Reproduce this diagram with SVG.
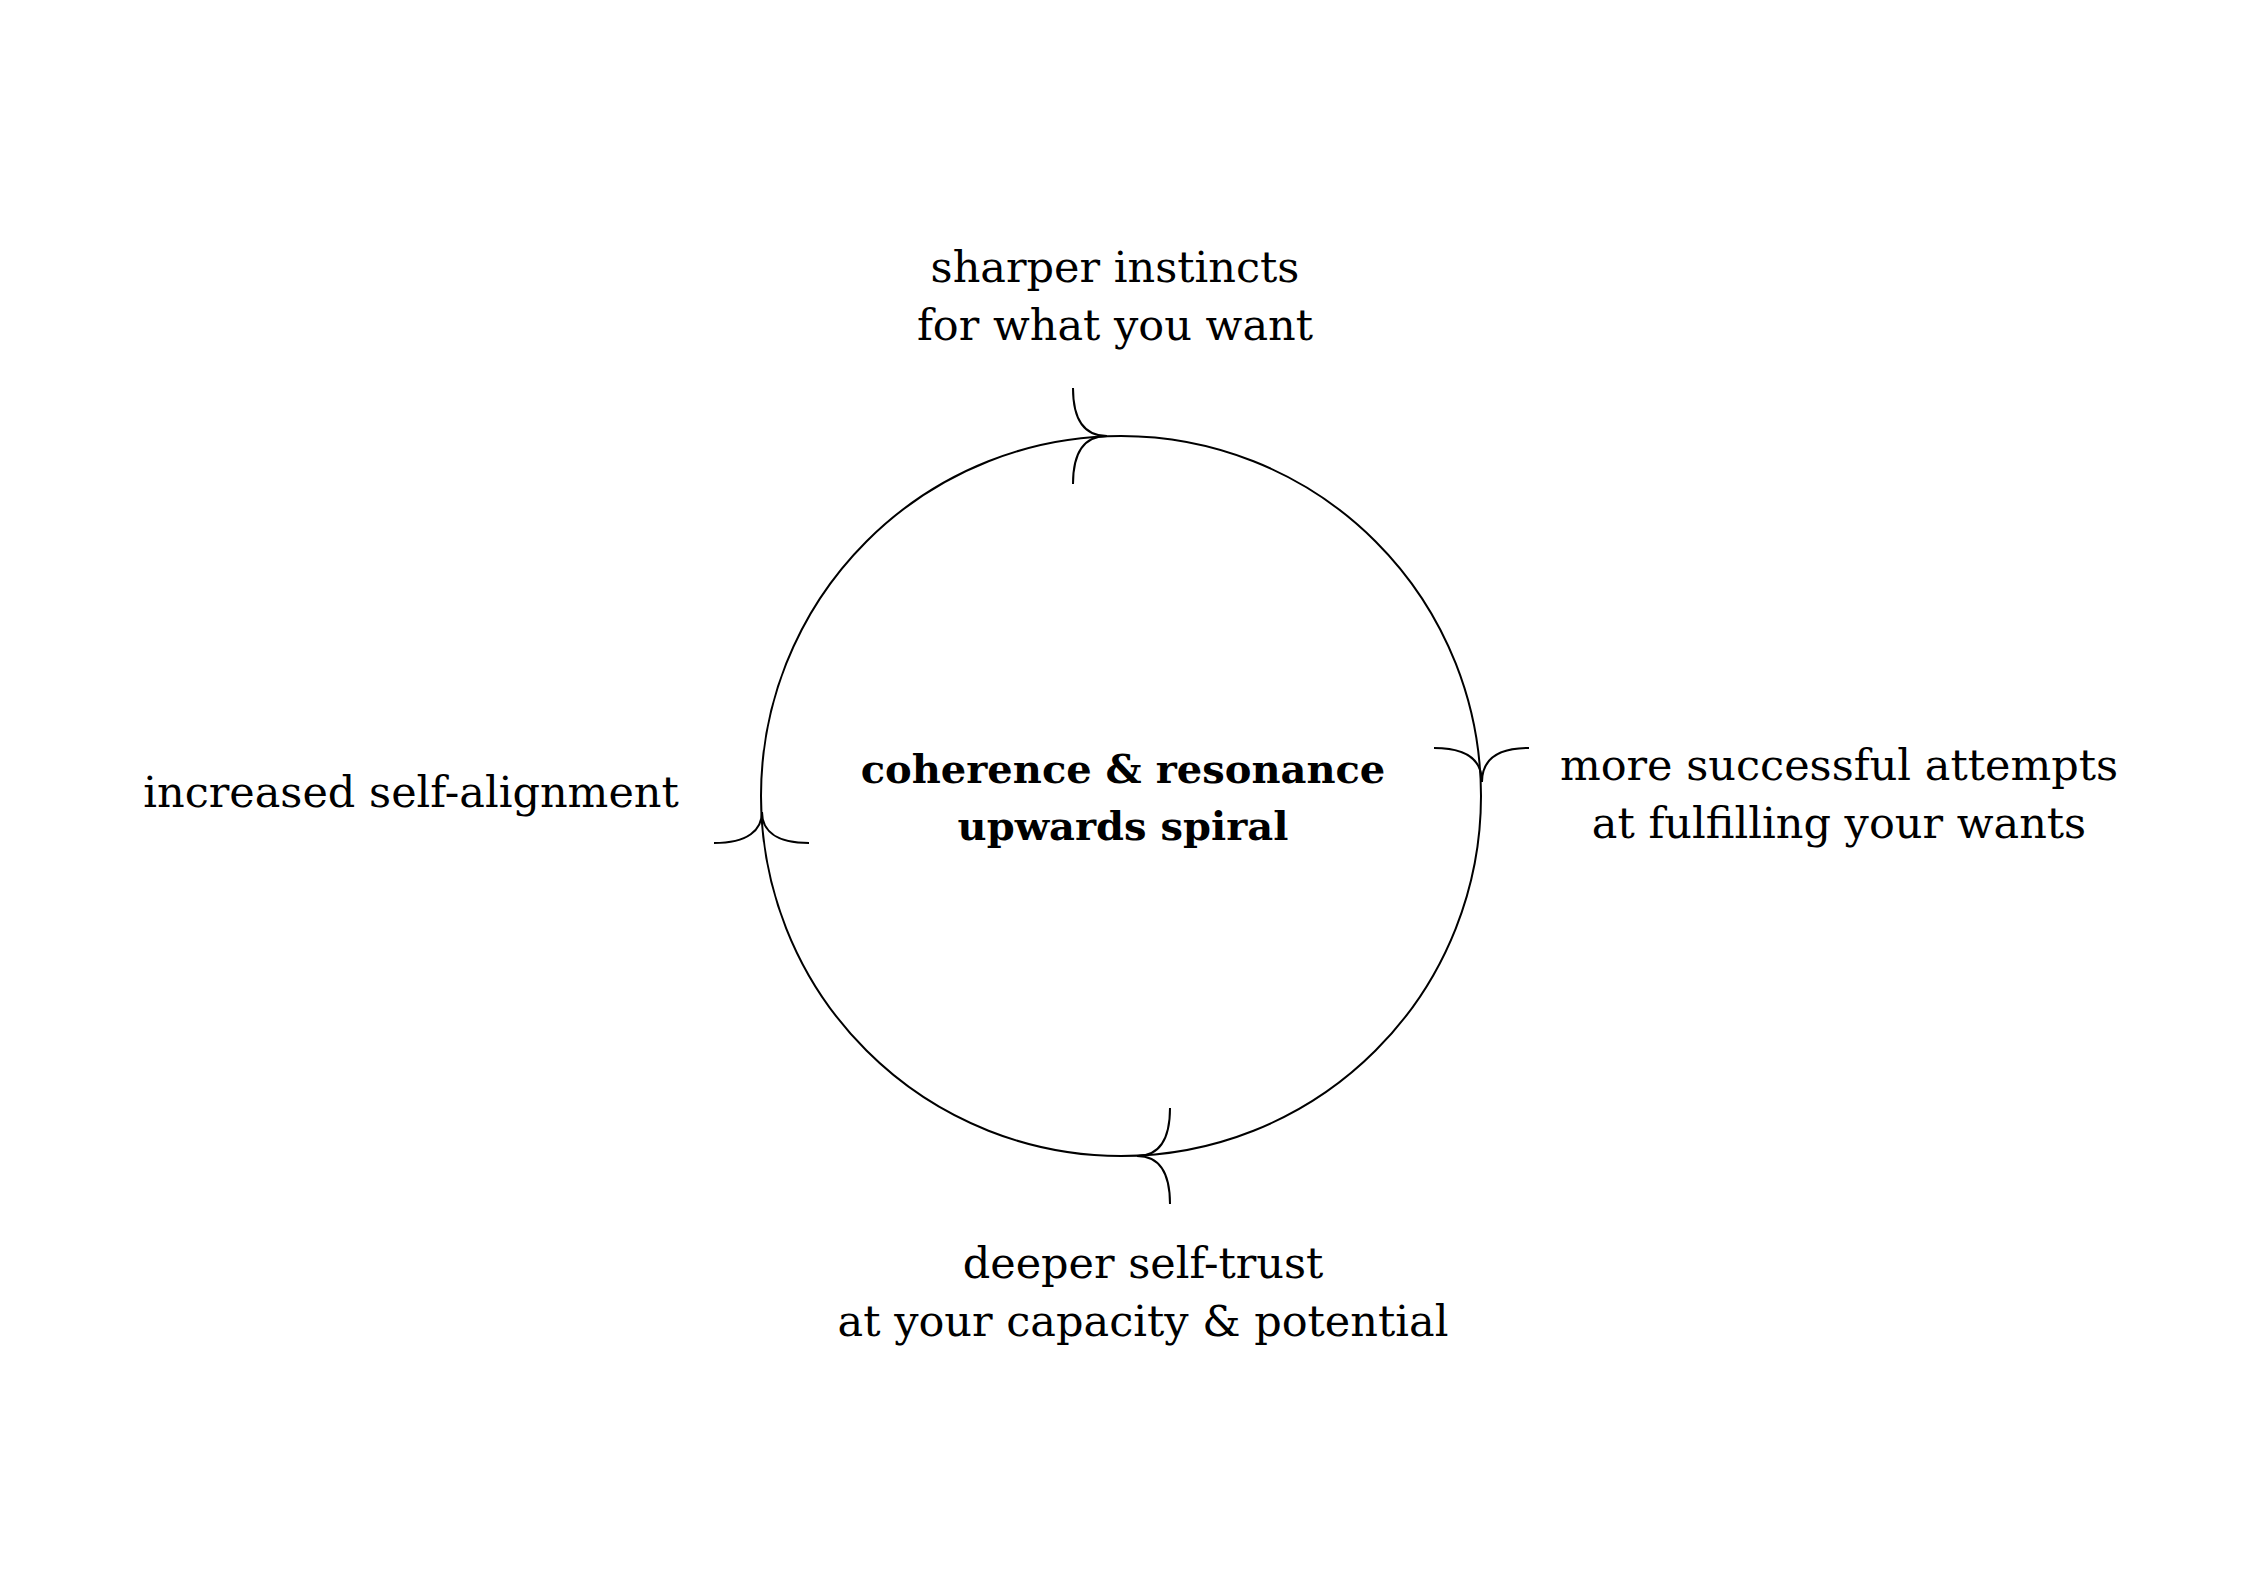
<svg xmlns="http://www.w3.org/2000/svg" width="2244" height="1592" viewBox="0 0 2244 1592">
<style>
.line{fill:none;stroke:#000;stroke-width:2;stroke-linecap:butt}
.lbl{font-family:"DejaVu Serif","Liberation Serif",serif;font-size:43px;fill:#000;text-anchor:middle}
.bold{font-weight:bold;font-size:40px}
</style>
<rect width="2244" height="1592" fill="#fff"/>
<g id="connectors">
<circle class="line" cx="1121" cy="796" r="360"/>
<path class="line" d="M1073,388 C1073,422 1086,436 1107,436 M1073,484 C1073,450 1086,436 1107,436"/>
<path class="line" d="M1434,748 C1468,748 1482,761 1482,782 M1529,748 C1495,748 1482,761 1482,782"/>
<path class="line" d="M1170,1108 C1170,1142 1157,1156 1137,1156 M1170,1204 C1170,1170 1157,1156 1137,1156"/>
<path class="line" d="M714,843 C748,843 762,830 762,812 M809,843 C775,843 762,830 762,812"/>
</g>
<g id="node-center">
<text class="lbl bold" x="1123" y="783">coherence &amp; resonance</text>
<text class="lbl bold" x="1123" y="840">upwards spiral</text>
</g>
<g id="node-top">
<text class="lbl" x="1115" y="282">sharper instincts</text>
<text class="lbl" x="1115" y="340">for what you want</text>
</g>
<g id="node-right">
<text class="lbl" x="1839" y="780">more successful attempts</text>
<text class="lbl" x="1839" y="838">at fulfilling your wants</text>
</g>
<g id="node-bottom">
<text class="lbl" x="1143" y="1278">deeper self-trust</text>
<text class="lbl" x="1143" y="1336">at your capacity &amp; potential</text>
</g>
<g id="node-left">
<text class="lbl" x="411" y="807">increased self-alignment</text>
</g>
</svg>
